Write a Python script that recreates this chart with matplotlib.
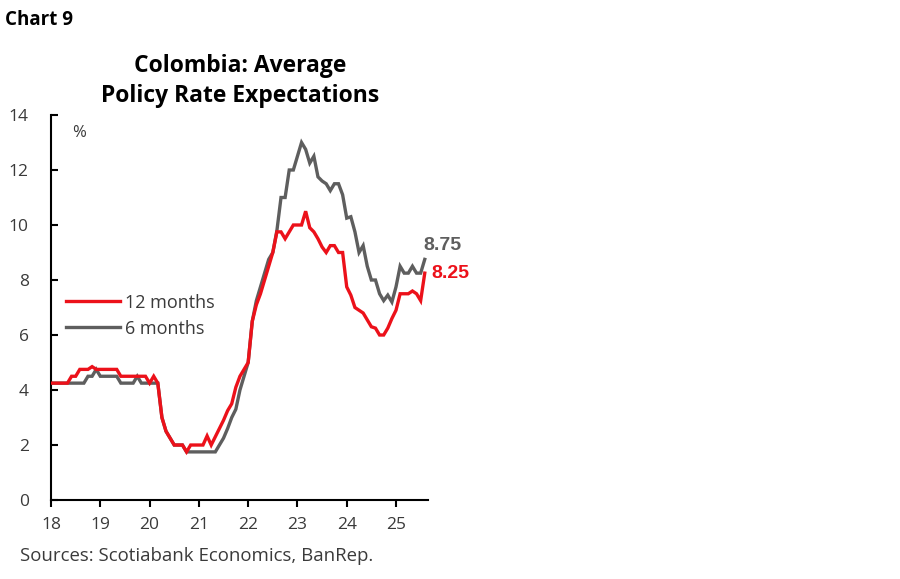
import matplotlib
matplotlib.use("Agg")
import matplotlib.pyplot as plt
import numpy as np

# Monthly data, Jan 2018 .. Aug 2025
start_year = 18
twelve_months = [4.25, 4.25, 4.25, 4.25, 4.25, 4.5, 4.5, 4.75, 4.75, 4.75, 4.85, 4.75,
                 4.75, 4.75, 4.75, 4.75, 4.75, 4.5, 4.5, 4.5, 4.5, 4.5, 4.5, 4.5,
                 4.25, 4.5, 4.25, 3.0, 2.5, 2.25, 2.0, 2.0, 2.0, 1.75, 2.0, 2.0,
                 2.0, 2.0, 2.33, 2.0, 2.3, 2.6, 2.9, 3.25, 3.5, 4.1, 4.5, 4.75,
                 5.0, 6.5, 7.1, 7.5, 8.0, 8.5, 9.0, 9.75, 9.75, 9.5, 9.75, 10.0,
                 10.0, 10.0, 10.5, 9.9, 9.75, 9.5, 9.2, 9.0, 9.25, 9.25, 9.0, 9.0,
                 7.75, 7.45, 7.0, 6.9, 6.8, 6.55, 6.3, 6.25, 6.0, 6.0, 6.25, 6.6,
                 6.9, 7.5, 7.5, 7.5, 7.6, 7.5, 7.25, 8.25]
six_months = [4.25, 4.25, 4.25, 4.25, 4.25, 4.25, 4.25, 4.25, 4.25, 4.5, 4.5, 4.75,
              4.5, 4.5, 4.5, 4.5, 4.5, 4.25, 4.25, 4.25, 4.25, 4.5, 4.25, 4.25,
              4.25, 4.25, 4.25, 3.0, 2.5, 2.25, 2.0, 2.0, 2.0, 1.75, 1.75, 1.75,
              1.75, 1.75, 1.75, 1.75, 1.75, 2.0, 2.25, 2.6, 3.0, 3.3, 4.0, 4.5,
              5.0, 6.5, 7.25, 7.75, 8.25, 8.75, 9.0, 9.8, 11.0, 11.0, 12.0, 12.0,
              12.5, 13.0, 12.75, 12.25, 12.5, 11.75, 11.6, 11.5, 11.25, 11.5, 11.5, 11.1,
              10.25, 10.3, 9.75, 9.0, 9.25, 8.5, 8.0, 8.0, 7.5, 7.25, 7.45, 7.2,
              7.75, 8.5, 8.25, 8.25, 8.5, 8.25, 8.25, 8.75]
year_ticks = [18, 19, 20, 21, 22, 23, 24, 25]
y_ticks = [0, 2, 4, 6, 8, 10, 12, 14]
series_labels = ["12 months", "6 months"]
last_labels = ["8.25", "8.75"]

RED = "#EC111A"
GRAY = "#5E5E5E"
TXT = "#3A3A3A"

plt.rcParams['font.family'] = ['Open Sans', 'DejaVu Sans']

x = start_year + np.arange(len(twelve_months)) / 12.0

fig = plt.figure(figsize=(9, 5.79), dpi=100)
ax = fig.add_axes([0.0567, 0.1364, 0.4189, 0.665])

ax.plot(x, twelve_months, color=RED, lw=2.4, label=series_labels[0], zorder=3,
        solid_joinstyle='miter')
ax.plot(x, six_months, color=GRAY, lw=2.4, label=series_labels[1], zorder=2,
        solid_joinstyle='miter')

ax.set_xlim(18, 25.65)
ax.set_ylim(0, 14)
ax.set_xticks(year_ticks)
ax.set_xticklabels([str(t) for t in year_ticks])
ax.set_yticks(y_ticks)
for s in ["top", "right"]:
    ax.spines[s].set_visible(False)
for s in ["left", "bottom"]:
    ax.spines[s].set_linewidth(1.5)
    ax.spines[s].set_color("black")
ax.tick_params(axis='x', direction='out', length=5, width=1.5, pad=7,
               labelsize=12.5, labelcolor=TXT)
ax.tick_params(axis='y', direction='in', length=5, width=1.5, pad=16,
               labelsize=12.5, labelcolor=TXT)

ax.text(0.057, 0.975, "%", transform=ax.transAxes, fontsize=12, color=TXT,
        ha='left', va='top')

leg = ax.legend(loc='upper left', bbox_to_anchor=(0.02, 0.555), frameon=False,
                fontsize=13, handlelength=3.0, handletextpad=0.3,
                labelspacing=0.45, borderaxespad=0)
for t in leg.get_texts():
    t.set_color(TXT)

ax.annotate(last_labels[1], xy=(x[-1], six_months[-1]), xytext=(-1, 10),
            textcoords='offset points', color=GRAY, fontsize=14,
            fontweight='bold', ha='left', va='center', family=['Liberation Sans'])
ax.annotate(last_labels[0], xy=(x[-1], twelve_months[-1]), xytext=(5, 0),
            textcoords='offset points', color=RED, fontsize=14,
            fontweight='bold', ha='left', va='center', family=['Liberation Sans'])

fig.text(0.006, 0.966, "Chart 9", fontsize=13.5, fontweight='bold',
         ha='left', va='center', color='black')
fig.text(0.267, 0.860, "Colombia: Average\nPolicy Rate Expectations",
         fontsize=16.5, fontweight='bold', ha='center', va='center',
         linespacing=1.3, color='black')
fig.text(0.022, 0.04, "Sources: Scotiabank Economics, BanRep.", fontsize=13.4,
         ha='left', va='center', color=TXT)

fig.savefig("out.png", dpi=100)
